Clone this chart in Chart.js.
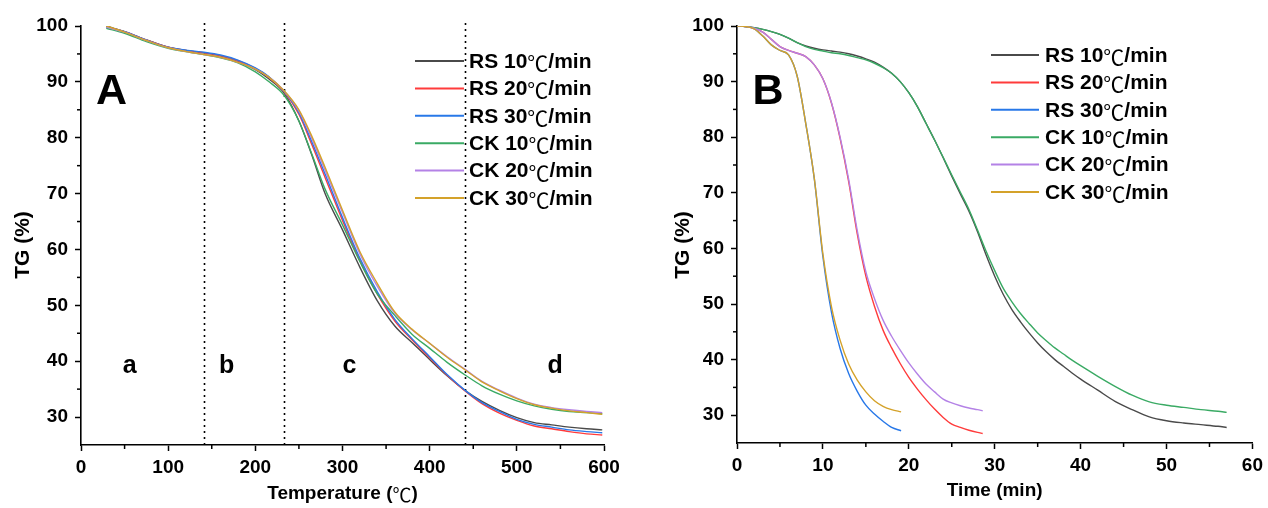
<!DOCTYPE html>
<html>
<head>
<meta charset="utf-8">
<script src="https://cdn.jsdelivr.net/npm/chart.js@4.4.1/dist/chart.umd.min.js"></script>
<style>
  html, body { margin: 0; padding: 0; background: #fff; }
  #wrap { position: relative; width: 1268px; height: 508px; }
  #chartA { position: absolute; left: 0; top: 0; width: 640px; height: 508px; }
  #chartB { position: absolute; left: 640px; top: 0; width: 628px; height: 508px; }
</style>
</head>
<body>
<div id="wrap">
  <canvas id="chartA" width="640" height="508"></canvas>
  <canvas id="chartB" width="628" height="508"></canvas>
</div>
<script>
// ---- series labels / colours ----
const seriesLabels = ['RS 10℃/min', 'RS 20℃/min', 'RS 30℃/min', 'CK 10℃/min', 'CK 20℃/min', 'CK 30℃/min'];
const seriesColors = ['#4a4a4a', '#ff3b3b', '#2878e8', '#3aaa64', '#b482e6', '#d4a22a'];

// ---- panel A: TG vs temperature (℃) ----
const tempA = [29, 50, 75, 100, 125, 141, 160, 180, 200, 215, 233, 250, 265, 280, 300, 320, 340, 360, 380, 400, 420, 442, 460, 480, 500, 520, 540, 560, 580, 598];
const rs10A = [100.0, 99.0, 97.5, 96.2, 95.5, 95.2, 94.6, 93.6, 92.2, 90.6, 88.0, 83.0, 76.8, 70.0, 63.5, 56.8, 50.8, 46.3, 43.3, 40.3, 37.4, 34.6, 32.8, 31.2, 29.9, 29.0, 28.6, 28.2, 27.9, 27.7];
const rs20A = [99.8, 99.0, 97.5, 96.2, 95.5, 95.2, 94.7, 93.8, 92.4, 90.9, 88.2, 84.2, 78.7, 72.9, 65.2, 58.0, 52.0, 47.2, 43.8, 40.6, 37.5, 34.5, 32.4, 30.7, 29.4, 28.4, 27.9, 27.4, 27.0, 26.8];
const rs30A = [99.8, 99.0, 97.5, 96.2, 95.6, 95.3, 94.8, 93.9, 92.5, 91.0, 88.3, 84.5, 79.2, 73.5, 65.7, 58.4, 52.4, 47.5, 44.0, 40.8, 37.6, 34.6, 32.6, 31.0, 29.6, 28.7, 28.2, 27.7, 27.4, 27.2];
const ck10A = [99.6, 98.7, 97.2, 96.0, 95.3, 94.9, 94.3, 93.4, 91.8, 90.1, 87.6, 83.0, 77.0, 70.8, 64.4, 57.8, 52.0, 48.2, 44.8, 42.3, 39.8, 37.4, 35.6, 34.1, 32.9, 32.0, 31.4, 31.0, 30.8, 30.6];
const ck20A = [99.8, 98.9, 97.4, 96.1, 95.3, 94.9, 94.4, 93.5, 92.3, 90.9, 88.4, 84.8, 79.8, 74.2, 66.6, 59.2, 53.4, 48.6, 45.6, 43.2, 40.8, 38.4, 36.4, 34.8, 33.4, 32.3, 31.7, 31.3, 31.0, 30.8];
const ck30A = [100.0, 98.9, 97.4, 96.1, 95.3, 94.9, 94.4, 93.5, 92.3, 90.9, 88.4, 85.0, 80.2, 74.7, 67.0, 59.6, 53.9, 48.8, 45.7, 43.2, 40.7, 38.3, 36.3, 34.7, 33.3, 32.2, 31.6, 31.1, 30.8, 30.5];
const stageBounds = [141, 233, 441];
const stageNames = ['a', 'b', 'c', 'd'];
const stageCenters = [56, 167, 308, 544];

// ---- panel B: TG vs time (min) ----
const time10 = [0, 1, 2, 3, 4, 5, 6, 7, 8, 9, 10, 11, 12, 13, 14, 15, 16, 17, 18, 19, 20, 21, 22, 23, 24, 25, 26, 27, 28, 29, 30, 31, 32, 33, 34, 35, 36, 37, 38, 39, 40, 42, 44, 46, 48, 50, 52, 54, 56, 57];
const rs10B = [100, 99.9, 99.7, 99.4, 99.0, 98.5, 97.8, 97.0, 96.4, 96.0, 95.7, 95.5, 95.3, 95.0, 94.6, 94.1, 93.5, 92.6, 91.5, 90.0, 88.0, 85.5, 82.5, 79.5, 76.3, 73.0, 69.8, 66.7, 63.0, 58.8, 55.0, 51.7, 49.0, 46.8, 44.8, 43.0, 41.4, 40.0, 38.8, 37.6, 36.5, 34.5, 32.5, 31.0, 29.7, 29.0, 28.6, 28.3, 28.0, 27.8];
const ck10B = [100, 99.9, 99.7, 99.4, 99.0, 98.5, 97.8, 97.0, 96.3, 95.8, 95.5, 95.2, 95.0, 94.7, 94.3, 93.9, 93.3, 92.5, 91.5, 90.0, 88.0, 85.5, 82.5, 79.5, 76.4, 73.2, 70.1, 67.0, 63.3, 59.5, 56.0, 52.8, 50.4, 48.3, 46.5, 44.8, 43.4, 42.1, 41.0, 39.9, 38.9, 37.0, 35.2, 33.6, 32.4, 31.8, 31.4, 31.0, 30.7, 30.5];
const time20 = [0, 1, 2, 3, 4, 5, 6, 7, 8, 9, 10, 11, 12, 13, 14, 15, 16, 17, 18, 19, 20, 21, 22, 23, 24, 25, 26, 27, 28, 28.6];
const rs20B = [100, 99.9, 99.6, 98.9, 97.6, 96.3, 95.6, 95.1, 94.5, 93.0, 90.5, 86.1, 79.8, 72.0, 62.6, 55.0, 49.6, 45.3, 42.1, 39.3, 36.8, 34.7, 32.8, 31.1, 29.6, 28.4, 27.8, 27.3, 26.9, 26.7];
const ck20B = [100, 99.9, 99.6, 98.9, 97.6, 96.3, 95.6, 95.1, 94.5, 93.0, 90.5, 86.2, 80.0, 72.4, 63.2, 55.8, 51.0, 47.1, 44.2, 41.7, 39.4, 37.4, 35.6, 34.2, 32.9, 32.2, 31.7, 31.3, 31.0, 30.8];
const time30 = [0, 1, 2, 3, 4, 5, 6, 7, 8, 9, 10, 11, 12, 13, 14, 15, 16, 17, 18, 19.1];
const rs30B = [100, 99.9, 99.5, 98.2, 96.6, 95.6, 94.8, 91.0, 82.5, 72.5, 58.5, 48.5, 42.0, 37.5, 34.3, 31.8, 30.2, 28.9, 27.8, 27.2];
const ck30B = [100, 99.9, 99.5, 98.2, 96.6, 95.6, 94.8, 91.0, 82.5, 72.6, 59.0, 49.5, 43.5, 39.2, 36.3, 34.2, 32.6, 31.6, 31.0, 30.6];

const LATIN = '"Liberation Sans", Arial, sans-serif';
const CJK = '"Noto Sans CJK SC", sans-serif';
Chart.defaults.font.family = LATIN;
Chart.defaults.color = '#000';

function toPoints(xs, ys) {
  return xs.map((x, i) => ({ x: x, y: ys[i] }));
}

function makeDatasets(pairs) {
  return pairs.map((p, i) => ({
    label: seriesLabels[i],
    data: toPoints(p[0], p[1]),
    borderColor: seriesColors[i],
    backgroundColor: seriesColors[i],
    borderWidth: 1.4,
    pointRadius: 0,
    cubicInterpolationMode: 'monotone',
    fill: false,
    order: 5 - i
  }));
}

// bold latin text, with the ℃ sign set in a thin CJK glyph
function drawMixed(ctx, text, x, y, size, align) {
  const parts = text.split('℃');
  const bold = 'bold ' + size + 'px ' + LATIN;
  const thin = size + 'px ' + CJK;
  let total = 0;
  parts.forEach((p, i) => {
    ctx.font = bold; total += ctx.measureText(p).width;
    if (i < parts.length - 1) { ctx.font = thin; total += ctx.measureText('℃').width; }
  });
  let cx = align === 'center' ? x - total / 2 : x;
  ctx.textAlign = 'left';
  ctx.textBaseline = 'middle';
  parts.forEach((p, i) => {
    ctx.font = bold; ctx.fillText(p, cx, y); cx += ctx.measureText(p).width;
    if (i < parts.length - 1) {
      ctx.font = thin; ctx.fillText('℃', cx, y + 1); cx += ctx.measureText('℃').width;
    }
  });
}

// draws the dotted stage lines, minor ticks, titles, panel letter and the legend box
const decorPlugin = {
  id: 'decor',
  beforeDatasetsDraw(chart, args, opts) {
    if (!opts.dividers) return;
    const { ctx, chartArea, scales: { x } } = chart;
    ctx.save();
    ctx.strokeStyle = '#000';
    ctx.lineWidth = 1.6;
    ctx.setLineDash([2, 4]);
    opts.dividers.forEach(v => {
      const px = Math.round(x.getPixelForValue(v)) + 0.5;
      ctx.beginPath();
      ctx.moveTo(px, chartArea.top - 3);
      ctx.lineTo(px, chartArea.bottom);
      ctx.stroke();
    });
    ctx.restore();
  },
  afterDraw(chart, args, opts) {
    const { ctx, chartArea, scales: { x, y } } = chart;
    ctx.save();
    // minor ticks
    ctx.strokeStyle = '#000';
    ctx.lineWidth = 1.5;
    for (let v = opts.minorX; v < x.max; v += opts.majorX) {
      const px = x.getPixelForValue(v);
      ctx.beginPath();
      ctx.moveTo(px, chartArea.bottom);
      ctx.lineTo(px, chartArea.bottom + 4);
      ctx.stroke();
    }
    for (let v = 35; v < y.max; v += 10) {
      const py = y.getPixelForValue(v);
      ctx.beginPath();
      ctx.moveTo(chartArea.left, py);
      ctx.lineTo(chartArea.left - 4, py);
      ctx.stroke();
    }
    ctx.fillStyle = '#000';
    // axis titles
    const t = opts.titles;
    drawMixed(ctx, t.x, (chartArea.left + chartArea.right) / 2, t.xTitleY, 19, 'center');
    ctx.save();
    ctx.translate(t.yTitleX, t.yTitleY);
    ctx.rotate(-Math.PI / 2);
    drawMixed(ctx, 'TG (%)', 0, 0, 21, 'center');
    ctx.restore();
    // panel letter
    ctx.textAlign = 'center';
    ctx.textBaseline = 'middle';
    ctx.font = 'bold 43px ' + LATIN;
    ctx.fillText(opts.letter, x.getPixelForValue(opts.letterAt[0]), y.getPixelForValue(opts.letterAt[1]));
    // stage names
    if (opts.stages) {
      ctx.font = 'bold 25px ' + LATIN;
      opts.stages.names.forEach((s, i) => {
        ctx.fillText(s, x.getPixelForValue(opts.stages.centers[i]), y.getPixelForValue(39.1));
      });
    }
    // legend
    const lg = opts.legend;
    chart.data.datasets.forEach((ds, i) => {
      const ly = lg.top + i * lg.step;
      ctx.strokeStyle = ds.borderColor;
      ctx.lineWidth = 2;
      ctx.beginPath();
      ctx.moveTo(lg.lineStart, ly);
      ctx.lineTo(lg.lineEnd, ly);
      ctx.stroke();
      ctx.fillStyle = '#000';
      drawMixed(ctx, ds.label, lg.textStart, ly + 1, 21, 'left');
    });
    ctx.restore();
  }
};

function xAxis(min, max, step, axisHeight) {
  return {
    type: 'linear', min: min, max: max,
    ticks: { stepSize: step, color: '#000', font: { size: 19, weight: 'bold' }, padding: 5, maxRotation: 0, autoSkip: false },
    grid: { drawOnChartArea: false, drawTicks: true, tickLength: 6, tickColor: '#000', tickWidth: 1.5 },
    border: { display: true, color: '#000', width: 1.6 },
    afterFit: s => { s.height = axisHeight; }
  };
}

function yAxis(axisWidth) {
  return {
    type: 'linear', min: 25, max: 100,
    afterBuildTicks: s => { s.ticks = s.ticks.filter(t => t.value % 10 === 0); },
    ticks: { stepSize: 10, color: '#000', font: { size: 19, weight: 'bold' }, padding: 7 },
    grid: { drawOnChartArea: false, drawTicks: true, tickLength: 6, tickColor: '#000', tickWidth: 1.5 },
    border: { display: true, color: '#000', width: 1.6 },
    afterFit: s => { s.width = axisWidth; }
  };
}

new Chart(document.getElementById('chartA'), {
  type: 'line',
  data: {
    datasets: makeDatasets([
      [tempA, rs10A], [tempA, rs20A], [tempA, rs30A],
      [tempA, ck10A], [tempA, ck20A], [tempA, ck30A]
    ])
  },
  options: {
    responsive: false,
    animation: false,
    layout: { padding: { top: 26, right: 36, bottom: 0, left: 0 } },
    scales: {
      x: xAxis(0, 600, 100, 63),
      y: yAxis(81)
    },
    plugins: {
      legend: { display: false },
      tooltip: { enabled: false },
      decor: {
        dividers: stageBounds,
        stages: { names: stageNames, centers: stageCenters },
        minorX: 50, majorX: 100,
        titles: { x: 'Temperature (℃)', xTitleY: 494, yTitleX: 23, yTitleY: 245 },
        letter: 'A', letterAt: [35, 88.2],
        legend: { top: 61, step: 27.4, lineStart: 415, lineEnd: 464, textStart: 469 }
      }
    }
  },
  plugins: [decorPlugin]
});

new Chart(document.getElementById('chartB'), {
  type: 'line',
  data: {
    datasets: makeDatasets([
      [time10, rs10B], [time20, rs20B], [time30, rs30B],
      [time10, ck10B], [time20, ck20B], [time30, ck30B]
    ])
  },
  options: {
    responsive: false,
    animation: false,
    layout: { padding: { top: 26, right: 15, bottom: 0, left: 0 } },
    scales: {
      x: xAxis(0, 60, 10, 65),
      y: yAxis(97)
    },
    plugins: {
      legend: { display: false },
      tooltip: { enabled: false },
      decor: {
        minorX: 5, majorX: 10,
        titles: { x: 'Time (min)', xTitleY: 491, yTitleX: 43, yTitleY: 245 },
        letter: 'B', letterAt: [3.6, 88.1],
        legend: { top: 55, step: 27.4, lineStart: 351, lineEnd: 399, textStart: 405 }
      }
    }
  },
  plugins: [decorPlugin]
});
</script>
</body>
</html>
